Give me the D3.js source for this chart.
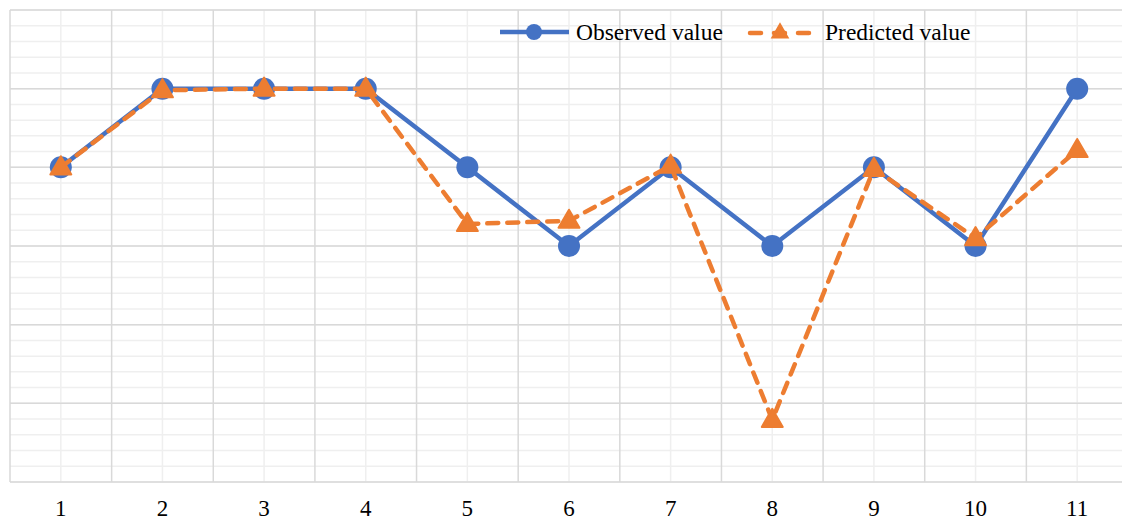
<!DOCTYPE html>
<meta charset="utf-8">
<head>
<style>
  body { margin: 0; background: #fff; }
  svg { display: block; font-family: "Liberation Serif", "Times New Roman", serif; }
  .major { stroke: #d9d9d9; stroke-width: 1.5px; }
  .minor { stroke: #efefef; stroke-width: 1.5px; }
  .observed { fill: none; stroke: #4472c4; stroke-width: 4.5px; }
  .predicted { fill: none; stroke: #ed7d31; stroke-width: 4.5px; stroke-dasharray: 11 9; stroke-linecap: round; }
</style>
</head>
<body>
<script src="https://d3js.org/d3.v7.min.js"></script>
<script>
// chart data
var categories = ["1", "2", "3", "4", "5", "6", "7", "8", "9", "10", "11"];
var observed = [4, 5, 5, 5, 4, 3, 4, 3, 4, 3, 5];
var predicted = [4, 4.98, 5, 5, 3.28, 3.32, 4.02, 0.79, 3.98, 3.1, 4.22];
var seriesNames = ["Observed value", "Predicted value"];

var W = 1122, H = 522;
var plotL = 10, plotR = 1128, plotT = 10, plotB = 482;

var svg = d3.select("body").append("svg")
    .attr("width", W)
    .attr("height", H);

var x = d3.scaleBand().domain(categories).range([plotL, plotR]);
var y = d3.scaleLinear().domain([0, 6]).range([plotB, plotT]);

// gridlines: minor first then major
var minorY = d3.range(0, 6.001, 0.2);
svg.append("g").selectAll("line").data(minorY).enter().append("line")
    .attr("class", "minor")
    .attr("x1", plotL).attr("x2", plotR)
    .attr("y1", function(d) { return y(d); })
    .attr("y2", function(d) { return y(d); });

svg.append("g").selectAll("line").data(categories).enter().append("line")
    .attr("class", "minor")
    .attr("x1", function(d) { return x(d) + x.bandwidth() / 2; })
    .attr("x2", function(d) { return x(d) + x.bandwidth() / 2; })
    .attr("y1", plotT).attr("y2", plotB);

svg.append("g").selectAll("line").data(y.ticks(6)).enter().append("line")
    .attr("class", "major")
    .attr("x1", plotL).attr("x2", plotR)
    .attr("y1", function(d) { return y(d); })
    .attr("y2", function(d) { return y(d); });

svg.append("g").selectAll("line").data(categories).enter().append("line")
    .attr("class", "major")
    .attr("x1", function(d) { return x(d); })
    .attr("x2", function(d) { return x(d); })
    .attr("y1", plotT).attr("y2", plotB);

// x axis labels
var xAxis = svg.append("g")
    .attr("transform", "translate(0," + plotB + ")")
    .call(d3.axisBottom(x).tickSize(0).tickPadding(18));
xAxis.select(".domain").remove();
xAxis.selectAll("text")
    .style("font-family", "Liberation Serif, serif")
    .style("font-size", "23px")
    .attr("fill", "#000");

function cx(d, i) { return x(categories[i]) + x.bandwidth() / 2; }

var line = d3.line()
    .x(function(d, i) { return cx(d, i); })
    .y(function(d) { return y(d); });

var tri = d3.symbol().type(d3.symbolTriangle).size(190);

// observed series
svg.append("path").datum(observed).attr("class", "observed").attr("d", line);
svg.append("g").selectAll("circle").data(observed).enter().append("circle")
    .attr("cx", cx)
    .attr("cy", function(d) { return y(d); })
    .attr("r", 11)
    .attr("fill", "#4472c4");

// predicted series
svg.append("path").datum(predicted).attr("class", "predicted").attr("d", line);
svg.append("g").selectAll("path").data(predicted).enter().append("path")
    .attr("d", tri)
    .attr("transform", function(d, i) { return "translate(" + cx(d, i) + "," + (y(d) + 1) + ")"; })
    .attr("fill", "#ed7d31")
    .attr("stroke", "#ed7d31")
    .attr("stroke-width", 2)
    .attr("stroke-linejoin", "round");

// legend
var lg = svg.append("g");
lg.append("line").attr("x1", 500).attr("x2", 569).attr("y1", 32).attr("y2", 32)
    .attr("stroke", "#4472c4").attr("stroke-width", 4.5);
lg.append("circle").attr("cx", 534).attr("cy", 32).attr("r", 8).attr("fill", "#4472c4");
lg.append("text").attr("x", 576).attr("y", 40).style("font-size", "23.5px").text(seriesNames[0]);

lg.append("line").attr("x1", 750).attr("x2", 810).attr("y1", 33).attr("y2", 33)
    .attr("class", "predicted").style("stroke-dasharray", "11 13");
lg.append("path").attr("d", d3.symbol().type(d3.symbolTriangle).size(100))
    .attr("transform", "translate(780,33)")
    .attr("fill", "#ed7d31").attr("stroke", "#ed7d31").attr("stroke-width", 2);
lg.append("text").attr("x", 825).attr("y", 40).style("font-size", "23.5px").text(seriesNames[1]);
</script>
</body>
